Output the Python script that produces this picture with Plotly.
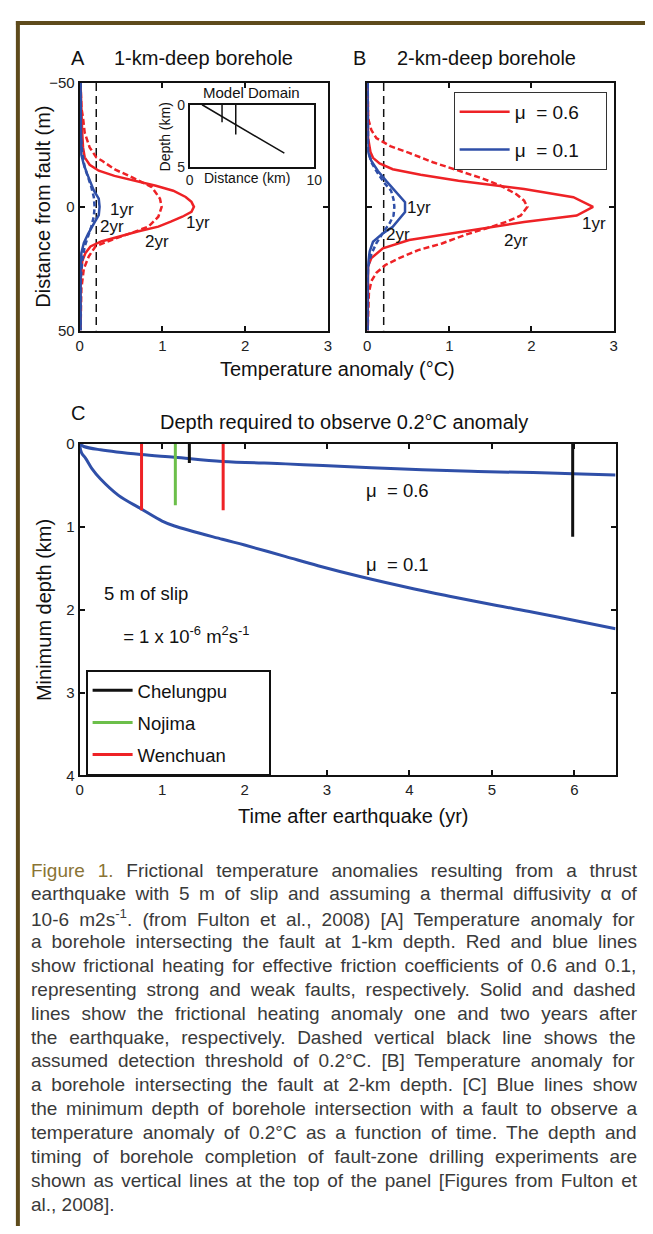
import plotly.graph_objects as go

PAGE_W, PAGE_H = 653, 1234
OFF = 8  # default body margin of the html page
W, H = PAGE_W - OFF, PAGE_H - OFF
FONT = "Liberation Sans, Arial, sans-serif"
RED = "#ee2226"
BLUE = "#2f4fa8"
GREEN = "#6cbf4a"

# ---------------- Panel A (1-km-deep borehole) ----------------
A_red1_y = [-50, -36, -30, -24, -20, -17, -14.6, -12.5, -10.6, -8.5, -6.5, -4, -2, 0, 2, 4, 6, 8, 10, 12, 14, 16, 18.6, 22, 30, 50]
A_red1_T = [0.01, 0.02, 0.03, 0.04, 0.06, 0.12, 0.23, 0.42, 0.67, 0.92, 1.13, 1.28, 1.35, 1.38, 1.35, 1.24, 1.1, 0.95, 0.7, 0.47, 0.26, 0.13, 0.07, 0.03, 0.01, 0.01]
A_red2_y = [-50, -40, -36, -30, -24, -20, -18.6, -15, -12.6, -10, -8, -3.3, 0, 4, 8, 10, 13.3, 16, 20, 25, 33, 50]
A_red2_T = [0.01, 0.02, 0.04, 0.06, 0.12, 0.2, 0.27, 0.43, 0.59, 0.76, 0.87, 0.97, 0.99, 0.95, 0.83, 0.67, 0.39, 0.19, 0.11, 0.05, 0.02, 0.01]
A_blue1_y = [-50, -40, -30, -21, -17, -13.3, -10, -6.6, -3.3, 0, 3.3, 6, 8, 11, 14.6, 18.6, 25, 33, 50]
A_blue1_T = [0.01, 0.01, 0.015, 0.02, 0.05, 0.09, 0.13, 0.17, 0.23, 0.24, 0.23, 0.18, 0.15, 0.1, 0.05, 0.02, 0.01, 0.01, 0.01]
A_blue2_y = [-50, -30, -22, -16, -12, -8, -4, 0, 4, 8, 12, 16, 22, 30, 50]
A_blue2_T = [0.01, 0.01, 0.03, 0.06, 0.1, 0.14, 0.17, 0.18, 0.17, 0.14, 0.1, 0.06, 0.03, 0.01, 0.01]

# ---------------- Panel B (2-km-deep borehole) ----------------
B_red1_y = [-50, -35, -27.8, -22, -19.8, -17.5, -15.2, -13, -10.5, -7.2, -3.9, 0, 3.5, 6.1, 10.1, 13.4, 16.8, 20.7, 24, 35, 50]
B_red1_T = [0.005, 0.005, 0.01, 0.04, 0.07, 0.15, 0.31, 0.65, 1.11, 1.91, 2.51, 2.75, 2.55, 1.91, 1.11, 0.51, 0.19, 0.05, 0.01, 0.005, 0.005]
B_red2_y = [-50, -40, -35.8, -31, -27.8, -24.5, -21.8, -18, -14.5, -11.5, -8.5, -5, -2.5, 0, 3.5, 6, 8.1, 11, 14.8, 17.5, 20.7, 23.5, 26.7, 30, 34.7, 42, 50]
B_red2_T = [0.005, 0.005, 0.01, 0.05, 0.11, 0.28, 0.51, 0.8, 1.11, 1.4, 1.63, 1.82, 1.91, 1.95, 1.87, 1.7, 1.51, 1.22, 0.91, 0.62, 0.39, 0.22, 0.11, 0.05, 0.02, 0.01, 0.005]
B_blue1_y = [-50, -30, -22.5, -18.5, -14.5, -10.5, -6, -1.9, 2.1, 5, 8.1, 11, 14.1, 18, 22.7, 30, 50]
B_blue1_T = [0.005, 0.005, 0.005, 0.05, 0.13, 0.23, 0.35, 0.46, 0.46, 0.39, 0.31, 0.18, 0.07, 0.03, 0.01, 0.005, 0.005]
B_blue2_y = [-50, -30, -22.5, -18, -14.5, -10, -6.5, -3, 0, 3.5, 6.8, 10, 14.8, 19, 24.1, 30, 50]
B_blue2_T = [0.005, 0.005, 0.01, 0.05, 0.11, 0.2, 0.29, 0.32, 0.33, 0.32, 0.27, 0.2, 0.11, 0.05, 0.01, 0.005, 0.005]

threshold_T = 0.2
dist_range = [-50, 50]

# ---------------- Inset (model domain) ----------------
fault_x = [1.0, 7.6]
fault_d = [0.0, 3.9]
borehole_x = [2.6, 3.7]
borehole_d = [1.4, 2.4]

# ---------------- Panel C ----------------
t_mu06 = [0, 0.05, 0.25, 0.74, 1.15, 1.73, 2.5, 2.95, 3.85, 4.75, 5.5, 5.98, 6.5]
d_mu06 = [0.0, 0.03, 0.07, 0.127, 0.16, 0.21, 0.24, 0.26, 0.30, 0.33, 0.345, 0.36, 0.375]
t_mu01 = [0, 0.01, 0.03, 0.07, 0.15, 0.25, 0.47, 0.74, 1.0, 1.15, 1.73, 2.0, 2.5, 2.89, 3.4, 4.06, 4.5, 5.06, 5.5, 6.05, 6.5]
d_mu01 = [0, 0.07, 0.12, 0.17, 0.3, 0.42, 0.62, 0.78, 0.93, 0.99, 1.15, 1.22, 1.36, 1.47, 1.6, 1.75, 1.84, 1.95, 2.03, 2.14, 2.23]

drill_names = ["Chelungpu", "Chelungpu", "Nojima", "Wenchuan", "Wenchuan"]
drill_t = [1.33, 5.98, 1.16, 0.75, 1.74]
drill_d = [0.23, 1.12, 0.74, 0.8, 0.8]
drill_colors = {"Chelungpu": "#111111", "Nojima": GREEN, "Wenchuan": RED}

# caption lines: (lead in colour, main text, superscript, tail)
caption_lines = [
    ("Figure 1.", " Frictional temperature anomalies resulting from a thrust", "", ""),
    ("", "earthquake with 5 m of slip and assuming a thermal diffusivity α of", "", ""),
    ("", "10-6 m2s", "-1", ". (from Fulton et al., 2008) [A] Temperature anomaly for"),
    ("", "a borehole intersecting the fault at 1-km depth. Red and blue lines", "", ""),
    ("", "show frictional heating for effective friction coefficients of 0.6 and 0.1,", "", ""),
    ("", "representing strong and weak faults, respectively. Solid and dashed", "", ""),
    ("", "lines show the frictional heating anomaly one and two years after", "", ""),
    ("", "the earthquake, respectively. Dashed vertical black line shows the", "", ""),
    ("", "assumed detection threshold of 0.2°C. [B] Temperature anomaly for", "", ""),
    ("", "a borehole intersecting the fault at 2-km depth. [C] Blue lines show", "", ""),
    ("", "the minimum depth of borehole intersection with a fault to observe a", "", ""),
    ("", "temperature anomaly of 0.2°C as a function of time. The depth and", "", ""),
    ("", "timing of borehole completion of fault-zone drilling experiments are", "", ""),
    ("", "shown as vertical lines at the top of the panel [Figures from Fulton et", "", ""),
    ("", "al., 2008].", "", ""),
]

# Arial / Liberation Sans advance widths (1/1000 em) for text justification
_AW = {' ': 278, 'a': 556, 'b': 556, 'c': 500, 'd': 556, 'e': 556, 'f': 278, 'g': 556, 'h': 556,
       'i': 222, 'j': 222, 'k': 500, 'l': 222, 'm': 833, 'n': 556, 'o': 556, 'p': 556, 'q': 556,
       'r': 333, 's': 500, 't': 278, 'u': 556, 'v': 500, 'w': 722, 'x': 500, 'y': 500, 'z': 500,
       '.': 278, ',': 278, '-': 333, '[': 278, ']': 278, '(': 333, ')': 333, '°': 400, 'α': 578,
       'A': 667, 'B': 667, 'C': 722, 'D': 722, 'F': 611, 'R': 722, 'S': 667, 'T': 611}


def text_w(s, size):
    return sum(_AW.get(ch, 556) for ch in s) * size / 1000.0


def px(x):
    return (x - OFF) / W


def py(y):
    return 1 - (y - OFF) / H


fig = go.Figure()


def curve(x, y, xa, ya, color, dash=None, width=2.5, shape="linear", **kw):
    fig.add_trace(go.Scatter(x=x, y=y, xaxis=xa, yaxis=ya, mode="lines",
                             line=dict(color=color, width=width, dash=dash, shape=shape),
                             hoverinfo="skip", **kw))


# Panel A
curve([threshold_T, threshold_T], dist_range, "x", "y", "#111111", dash="8px,5px", width=1.5, showlegend=False)
curve(A_red2_T, A_red2_y, "x", "y", RED, dash="6px,3px", showlegend=False)
curve(A_red1_T, A_red1_y, "x", "y", RED, showlegend=False)
curve(A_blue2_T, A_blue2_y, "x", "y", BLUE, dash="5px,3px", showlegend=False)
curve(A_blue1_T, A_blue1_y, "x", "y", BLUE, showlegend=False)

# Panel B
NB = "\u00a0"
curve([threshold_T, threshold_T], dist_range, "x2", "y2", "#111111", dash="8px,5px", width=1.5, showlegend=False)
curve(B_red2_T, B_red2_y, "x2", "y2", RED, dash="6px,3px", showlegend=False)
curve(B_red1_T, B_red1_y, "x2", "y2", RED, name="μ" + NB * 2 + "= 0.6" + NB * 4, showlegend=True,
      legend="legend", legendgroup="r", legendrank=1)
curve(B_blue2_T, B_blue2_y, "x2", "y2", BLUE, dash="5px,3px", showlegend=False)
curve(B_blue1_T, B_blue1_y, "x2", "y2", BLUE, name="μ" + NB * 2 + "= 0.1" + NB * 4, showlegend=True,
      legend="legend", legendgroup="b", legendrank=2)

# Inset
curve(fault_x, fault_d, "x3", "y3", "#111111", width=1.5, showlegend=False)
for bx, bd in zip(borehole_x, borehole_d):
    curve([bx, bx], [0, bd], "x3", "y3", "#111111", width=1.5, showlegend=False)

# Panel C
curve(t_mu06, d_mu06, "x4", "y4", BLUE, width=3, shape="spline", showlegend=False)
curve(t_mu01, d_mu01, "x4", "y4", BLUE, width=3, shape="spline", showlegend=False)
seen = set()
rank = {"Chelungpu": 1, "Nojima": 2, "Wenchuan": 3}
pad = {"Chelungpu": 7, "Nojima": 7, "Wenchuan": 7}
for name, t, d in zip(drill_names, drill_t, drill_d):
    curve([t, t], [0, d], "x4", "y4", drill_colors[name], width=3, name=name + NB * pad[name],
          showlegend=name not in seen, legend="legend2", legendgroup=name,
          legendrank=rank[name])
    seen.add(name)

tickfont = dict(family=FONT, size=15, color="#222222")
axis_common = dict(showgrid=False, zeroline=False, showline=True, linecolor="#111111",
                   linewidth=2, mirror="ticks", ticks="inside", ticklen=5,
                   tickcolor="#111111", tickwidth=1.5, tickfont=tickfont)
inset_axis = dict(showgrid=False, zeroline=False, showline=True, linecolor="#111111", linewidth=1.5,
                  mirror=True, ticks="", tickfont=dict(family=FONT, size=14, color="#222222"))

fig.update_layout(
    width=W, height=H, margin=dict(l=0, r=0, t=0, b=0),
    paper_bgcolor="white", plot_bgcolor="white",
    font=dict(family=FONT, color="#111111"),
    xaxis=dict(domain=[px(77), px(330)], range=[0, 3], tickvals=[0, 1, 2, 3], anchor="y", **axis_common),
    yaxis=dict(domain=[py(326), py(75)], range=[50, -50], tickvals=[-50, 0, 50], anchor="x", **axis_common),
    xaxis2=dict(domain=[px(370), px(621)], range=[0, 3], tickvals=[0, 1, 2, 3], anchor="y2", **axis_common),
    yaxis2=dict(domain=[py(326), py(75)], range=[50, -50], tickvals=[-50, 0, 50], showticklabels=False,
                anchor="x2", **axis_common),
    xaxis3=dict(domain=[px(189), px(316)], range=[0, 10], tickvals=[0, 10], anchor="y3", **inset_axis),
    yaxis3=dict(domain=[py(160), py(97)], range=[5, 0], tickvals=[0, 5], anchor="x3", **inset_axis),
    xaxis4=dict(domain=[px(77), px(623)], range=[0, 6.5], tickvals=[0, 1, 2, 3, 4, 5, 6], anchor="y4", **axis_common),
    yaxis4=dict(domain=[py(777), py(441)], range=[4, 0], tickvals=[0, 1, 2, 3, 4], anchor="x4", **axis_common),
    legend=dict(x=px(458), y=py(84), xanchor="left", yanchor="top", bordercolor="#333333",
                borderwidth=1, bgcolor="white", font=dict(family=FONT, size=19, color="#111111"),
                tracegroupgap=10, traceorder="grouped", itemwidth=50),
    legend2=dict(x=px(83), y=py(670), xanchor="left", yanchor="top", bordercolor="#111111",
                 borderwidth=2, bgcolor="white", font=dict(family=FONT, size=18.5, color="#111111"),
                 tracegroupgap=5, traceorder="grouped", itemwidth=40),
)

ann = []


def paper_text(text, x, y, size=20, anchor="center", angle=0, color="#111111"):
    ann.append(dict(text=text, x=px(x), y=py(y), xref="paper", yref="paper", showarrow=False,
                    xanchor=anchor, yanchor="middle", textangle=angle,
                    font=dict(family=FONT, size=size, color=color)))


def data_text(text, x, y, xr, yr, size=17, anchor="center"):
    ann.append(dict(text=text, x=x, y=y, xref=xr, yref=yr, showarrow=False,
                    xanchor=anchor, yanchor="middle", font=dict(family=FONT, size=size, color="#111111")))


# titles
paper_text("A", 75, 50)
paper_text("1-km-deep borehole", 203, 50)
paper_text("B", 362, 50)
paper_text("2-km-deep borehole", 492, 50)
paper_text("Distance from fault (m)", 40, 200, angle=-90)
paper_text("Temperature anomaly (°C)", 340, 365)
paper_text("C", 75, 410)
paper_text("Depth required to observe 0.2°C anomaly", 346, 419)
paper_text("Minimum depth (km)", 40, 609, angle=-90)
paper_text("Time after earthquake (yr)", 355, 818)

# inset labels
paper_text("Model Domain", 252, 85, size=15)
paper_text("Distance (km)", 247, 171, size=14)
paper_text("Depth (km)", 164, 130, size=14, angle=-90)

# curve labels A
data_text("1yr", 0.51, 0.9, "x", "y")
data_text("2yr", 0.39, 8, "x", "y")
data_text("1yr", 1.43, 6.4, "x", "y")
data_text("2yr", 0.93, 14, "x", "y")
# curve labels B
data_text("1yr", 0.63, 0.4, "x2", "y2")
data_text("2yr", 0.38, 11, "x2", "y2")
data_text("1yr", 2.76, 6.8, "x2", "y2")
data_text("2yr", 1.81, 13.7, "x2", "y2")
# panel C labels
data_text("μ" + NB * 2 + "= 0.6", 3.86, 0.56, "x4", "y4", size=18.5)
data_text("μ" + NB * 2 + "= 0.1", 3.86, 1.46, "x4", "y4", size=18.5)
data_text("5 m of slip", 0.27, 1.81, "x4", "y4", size=18.5, anchor="left")
data_text(NB + "= 1 x 10<sup>-6</sup> m<sup>2</sup>s<sup>-1</sup>", 0.44, 2.3, "x4", "y4", size=18.5, anchor="left")

# caption, justified between x=27 and x=633 via word-spacing
CAP_SIZE = 19
CAP_LEFT, CAP_RIGHT = 27, 633
for i, (lead, main, sup, tail) in enumerate(caption_lines):
    full = lead + main + tail
    natural = text_w(full, CAP_SIZE) + text_w(sup, CAP_SIZE * 0.7)
    nspace = full.count(" ")
    last = i == len(caption_lines) - 1
    ws = 0.0 if (last or nspace == 0) else (CAP_RIGHT - CAP_LEFT - natural) / nspace
    st = "word-spacing:%.2fpx" % ws
    parts = []
    if lead:
        parts.append("<span style='color:#8a7434;%s'>%s</span>" % (st, lead))
    parts.append("<span style='%s'>%s</span>" % (st, main))
    if sup:
        parts.append("<sup>%s</sup>" % sup)
    if tail:
        parts.append("<span style='%s'>%s</span>" % (st, tail))
    ann.append(dict(text="".join(parts), x=px(CAP_LEFT - 2), y=py(873 + i * 24.2), xref="paper", yref="paper",
                    showarrow=False, xanchor="left", yanchor="middle", align="left",
                    font=dict(family=FONT, size=CAP_SIZE, color="#3a3a3a")))

fig.update_layout(annotations=ann)

# page frame (brown border)
fig.add_shape(type="line", xref="paper", yref="paper", x0=px(14), x1=px(14), y0=py(12), y1=0,
              line=dict(color="#5e4b1c", width=4))
fig.add_shape(type="line", xref="paper", yref="paper", x0=px(12), x1=1, y0=py(14), y1=py(14),
              line=dict(color="#5e4b1c", width=4))

fig.write_html("out.html")
